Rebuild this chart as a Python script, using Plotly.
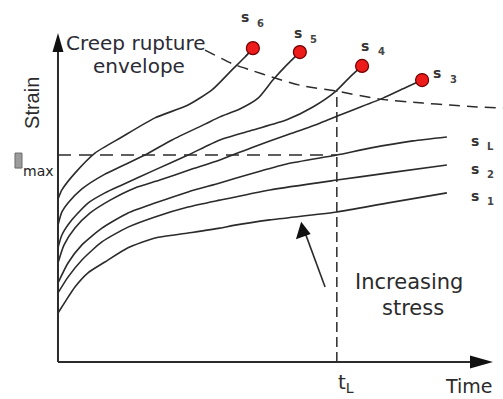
import numpy as np
import plotly.graph_objects as go

# ---- creep curves (time, strain in arbitrary units), one pair per stress level ----
t_s1 = [0, 1.6, 3.9, 6.9, 10.8, 16.1, 22.3, 29.9, 37.2, 40.7, 48.7, 64.1, 75.6, 89.4]
e_s1 = [14.9, 18.2, 22.8, 27.1, 30.4, 34.7, 37.7, 39.2, 40.7, 41.6, 43.2, 45.6, 48.3, 51.4]

t_s2 = [0, 2.3, 5.5, 10.1, 16.1, 22.3, 29.9, 37.2, 48.7, 64.1, 75.6, 89.4]
e_s2 = [21.0, 25.8, 31.0, 36.5, 41.0, 44.1, 47.1, 49.2, 52.3, 55.3, 57.4, 59.9]

t_sL = [0, 2.3, 5.5, 10.1, 16.1, 22.3, 29.9, 37.2, 44.8, 52.6, 64.1, 71.7, 81.6, 89.4]
e_sL = [24.0, 30.1, 35.6, 40.7, 45.3, 48.3, 51.7, 54.4, 57.4, 60.2, 62.9, 65.0, 67.2, 68.4]

t_s3 = [0, 1.4, 3.9, 7.4, 12.0, 17.7, 23.4, 30.3, 37.2, 44.8, 52.6, 60.2, 67.8, 74.7, 80.2, 83.7]
e_s3 = [30.1, 35.6, 40.7, 45.3, 49.2, 52.9, 55.3, 58.4, 61.4, 65.3, 69.0, 72.6, 76.6, 80.2, 83.6, 85.7]

t_s4 = [0, 0.9, 3.2, 6.9, 10.8, 14.7, 22.3, 29.9, 37.2, 44.8, 52.6, 58.6, 63.7, 67.1, 69.9]
e_s4 = [34.7, 38.6, 43.2, 48.3, 51.4, 53.8, 58.4, 62.9, 67.5, 70.5, 73.6, 77.5, 82.1, 86.6, 90.0]

t_s5 = [0, 0.9, 2.3, 5.5, 10.8, 20.0, 26.2, 33.8, 37.2, 41.8, 46.0, 49.4, 52.6, 55.6]
e_s5 = [41.6, 45.6, 48.3, 52.6, 57.1, 62.9, 67.5, 72.3, 74.5, 76.9, 80.2, 85.7, 90.3, 94.2]

t_s6 = [0, 0.9, 3.9, 8.5, 14.7, 22.3, 29.9, 35.4, 40.0, 43.0, 44.8]
e_s6 = [49.5, 52.3, 57.4, 63.5, 68.4, 74.2, 78.1, 82.7, 88.8, 92.7, 95.4]

# creep rupture envelope
t_env = [33.8, 40.2, 44.1, 49.9, 56.3, 63.7, 74.0, 83.9, 90.1, 96.3, 102.3]
e_env = [94.8, 90.6, 88.8, 86.3, 83.9, 82.4, 79.9, 78.7, 78.1, 77.5, 77.2]

# design limits
T_L = 64.1
EPS_MAX = 62.9

# stress level subscripts
subs = ["1", "2", "L", "3", "4", "5", "6"]
ruptured = [False, False, False, True, True, True, True]

curves = [(t_s1, e_s1), (t_s2, e_s2), (t_sL, e_sL), (t_s3, e_s3),
          (t_s4, e_s4), (t_s5, e_s5), (t_s6, e_s6)]

INK = "#2b2b2b"
FONT = "DejaVu Sans"

fig = go.Figure()

for t, e in curves:
    fig.add_trace(go.Scatter(
        x=t, y=e, mode="lines",
        line=dict(color=INK, width=1.6, shape="spline", smoothing=0.6),
        hoverinfo="skip", showlegend=False))

fig.add_trace(go.Scatter(
    x=t_env, y=e_env, mode="lines",
    line=dict(color=INK, width=1.5, dash="11px,7px", shape="spline", smoothing=0.6),
    hoverinfo="skip", showlegend=False))

# strain limit and time limit
env_at_tl = float(np.interp(T_L, t_env, e_env))
fig.add_trace(go.Scatter(
    x=[0, T_L], y=[EPS_MAX, EPS_MAX], mode="lines",
    line=dict(color=INK, width=1.5, dash="13px,8px"),
    hoverinfo="skip", showlegend=False))
fig.add_trace(go.Scatter(
    x=[T_L, T_L], y=[0, env_at_tl], mode="lines",
    line=dict(color=INK, width=1.5, dash="10px,5px"),
    hoverinfo="skip", showlegend=False))

# increasing-stress arrow shaft
arrow_t = [61.4, 56.6]
arrow_e = [22.8, 40.0]
fig.add_trace(go.Scatter(
    x=arrow_t, y=arrow_e, mode="lines",
    line=dict(color=INK, width=1.6),
    hoverinfo="skip", showlegend=False))

# rupture points
rx = [c[0][-1] for c, r in zip(curves, ruptured) if r]
ry = [c[1][-1] for c, r in zip(curves, ruptured) if r]
fig.add_trace(go.Scatter(
    x=rx, y=ry, mode="markers",
    marker=dict(size=13, color="#ee1b1b", line=dict(color="#6e0000", width=1.2)),
    hoverinfo="skip", showlegend=False))

# stress labels, offset in pixels from each curve end
label_shift = {
    "1": (28, -3), "2": (28, -4), "L": (28, -4),
    "3": (15, 7), "4": (3, 20), "5": (-2, 19), "6": (-8, 31),
}
annotations = []
for (t, e), s in zip(curves, subs):
    dx, dy = label_shift[s]
    annotations.append(dict(
        x=t[-1], y=e[-1], xref="x", yref="y", text="<b>s</b>", showarrow=False,
        xshift=dx, yshift=dy, font=dict(family=FONT, size=14, color="#333333")))
    annotations.append(dict(
        x=t[-1], y=e[-1], xref="x", yref="y", text="<b>" + s + "</b>", showarrow=False,
        xshift=dx + 16, yshift=dy - 6, font=dict(family=FONT, size=10, color="#444444")))

annotations += [
    dict(x=18.0, y=96.9, text="Creep rupture", showarrow=False,
         font=dict(family=FONT, size=20, color="#2b2b35")),
    dict(x=18.7, y=89.9, text="envelope", showarrow=False,
         font=dict(family=FONT, size=20, color="#2b2b35")),
    dict(x=-6.0, y=78.7, text="Strain", textangle=-90, showarrow=False,
         font=dict(family="Liberation Sans, Arial", size=20, color=INK)),
    dict(x=0, y=EPS_MAX, text="max", showarrow=False, xshift=-19, yshift=-16,
         font=dict(family=FONT, size=14, color="#222222")),
    dict(x=T_L, y=0, text="t<sub>L</sub>", showarrow=False, xanchor="left",
         yshift=-21, xshift=-1, font=dict(family=FONT, size=20, color=INK)),
    dict(x=94.4, y=0, yref="paper", yanchor="bottom", text="Time", showarrow=False,
         font=dict(family=FONT, size=19, color=INK)),
    dict(x=80.7, y=24.4, text="Increasing", showarrow=False,
         font=dict(family=FONT, size=21, color=INK)),
    dict(x=81.5, y=16.4, text="stress", showarrow=False,
         font=dict(family=FONT, size=21, color=INK)),
]

shapes = [
    # axes
    dict(type="line", x0=0, y0=0, x1=0, y1=96, line=dict(color=INK, width=2)),
    dict(type="line", x0=0, y0=0, x1=96, y1=0, line=dict(color=INK, width=2)),
    dict(type="path", xsizemode="pixel", ysizemode="pixel", xanchor=0, yanchor=100,
         path="M0,0 L-5.5,-19 L5.5,-19 Z", fillcolor="#111111", line=dict(width=0)),
    dict(type="path", xsizemode="pixel", ysizemode="pixel", xanchor=100, yanchor=0,
         path="M0,0 L-23,6.5 L-23,-6.5 Z", fillcolor="#111111", line=dict(width=0)),
    # head of the increasing-stress arrow
    dict(type="path", xsizemode="pixel", ysizemode="pixel", xanchor=55.9, yanchor=42.6,
         path="M0,0 L-5.2,-17.5 L9.5,-12.2 Z", fillcolor="#111111", line=dict(width=0)),
    # strain symbol box
    dict(type="rect", xsizemode="pixel", ysizemode="pixel", xanchor=0, yanchor=EPS_MAX,
         x0=-43, x1=-36, y0=2, y1=-13, fillcolor="#9c9c9c",
         line=dict(color="#6a6a6a", width=1)),
]

fig.update_layout(
    width=503, height=399, autosize=False,
    margin=dict(l=0, r=0, t=0, b=0, pad=0),
    paper_bgcolor="white", plot_bgcolor="white",
    xaxis=dict(range=[-13.33, 102.3], visible=False, fixedrange=True),
    yaxis=dict(range=[-11.25, 110.03], visible=False, fixedrange=True),
    annotations=annotations, shapes=shapes, showlegend=False,
)

fig.write_html("out.html")
